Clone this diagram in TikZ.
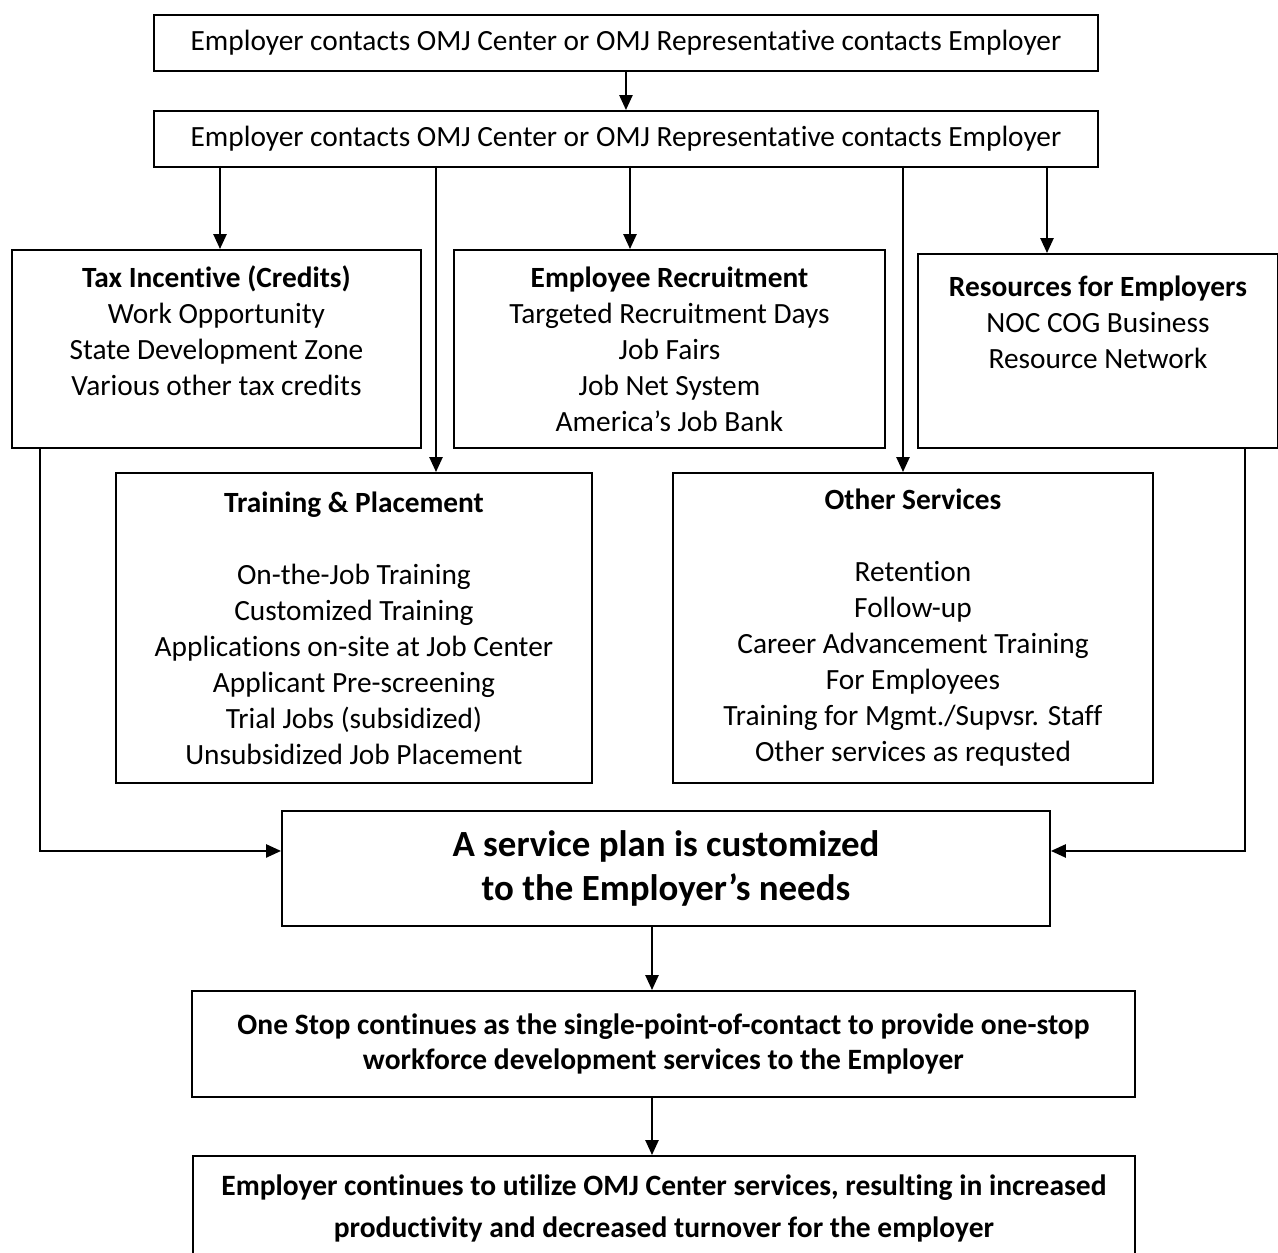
\documentclass[tikz,border=0pt]{standalone}
\usepackage{fontspec}
\setmainfont{Carlito}[Ligatures=NoCommon]
\usetikzlibrary{arrows.meta}

\begin{document}
\begin{tikzpicture}[x=0.02cm,y=-0.02cm,
    blk/.style 2 args={draw, line width=1.1pt, anchor=north west, align=center,
        inner sep=0pt, minimum width=#1*0.02cm, minimum height=#2*0.02cm,
        font=\fontsize{16.7}{20.5}\selectfont},
    arr/.style={line width=1.1pt, -{Triangle[length=8.5pt,width=7.5pt]}}]
        % Define page size (pixels of the reference)
        \useasboundingbox (0,0) rectangle (1278,1253);

        % Contact boxes
        \node[blk={944}{56}] (top) at (153,14) {Employer contacts OMJ Center or OMJ Representative contacts Employer};
        \node[blk={944}{56}] (mid) at (153,110) {Employer contacts OMJ Center or OMJ Representative contacts Employer};

        % Service boxes, first row
        \node[blk={409}{198}] (tax) at (11,249) {\textbf{Tax Incentive (Credits)}\\Work Opportunity\\State Development Zone\\Various other tax credits\\ \mbox{}};
        \node[blk={431}{198}] (rec) at (453,249) {\textbf{Employee Recruitment}\\Targeted Recruitment Days\\Job Fairs\\Job Net System\\America’s Job Bank};
        \node[blk={360}{194}] (res) at (917,253) {\textbf{Resources for Employers}\\NOC COG Business\\Resource Network\\[12.5pt]\mbox{}};

        % Service boxes, second row
        \node[blk={476}{310}] (train) at (115,472) {\textbf{Training \& Placement}\\ \mbox{}\\On-the-Job Training\\Customized Training\\Applications on-site at Job Center\\Applicant Pre-screening\\Trial Jobs (subsidized)\\Unsubsidized Job Placement};
        \node[blk={480}{310}] (other) at (672,472) {\textbf{Other Services}\strut\\ \mbox{}\\Retention\\Follow-up\\Career Advancement Training\\For Employees\\Training for Mgmt./Supvsr. Staff\\Other services as requsted\strut};

        % Service plan and follow-up
        \node[blk={768}{115}, font=\fontsize{21}{25}\selectfont\bfseries] (plan) at (281,810) {A service plan is customized\\to the Employer’s needs};
        \node[blk={943}{106}, font=\fontsize{16.8}{20}\selectfont\bfseries] (stop) at (191,990) {One Stop continues as the single-point-of-contact to provide one-stop\\workforce development services to the Employer};
        \node[blk={942}{105}, font=\fontsize{16.8}{24}\selectfont\bfseries] (last) at (192,1155) {Employer continues to utilize OMJ Center services, resulting in increased\\productivity and decreased turnover for the employer};

        % Arrows
        \draw[arr] (top) -- (mid);
        \foreach \ax/\tg in {220/tax, 630/rec, 1047/res, 436/train, 903/other} {
            \coordinate (s-\tg) at (\ax,166);
            \draw[arr] (s-\tg) -- (s-\tg |- \tg.north);
        }
        \coordinate (ltop) at (40,447);
        \coordinate (rtop) at (1245,447);
        \draw[arr] (ltop) |- ([yshift=0.35cm]plan.west);
        \draw[arr] (rtop) |- ([yshift=0.35cm]plan.east);
        \coordinate (b1) at (652,925);
        \coordinate (b2) at (652,1096);
        \draw[arr] (b1) -- (b1 |- stop.north);
        \draw[arr] (b2) -- (b2 |- last.north);
    \end{tikzpicture}
\end{document}
